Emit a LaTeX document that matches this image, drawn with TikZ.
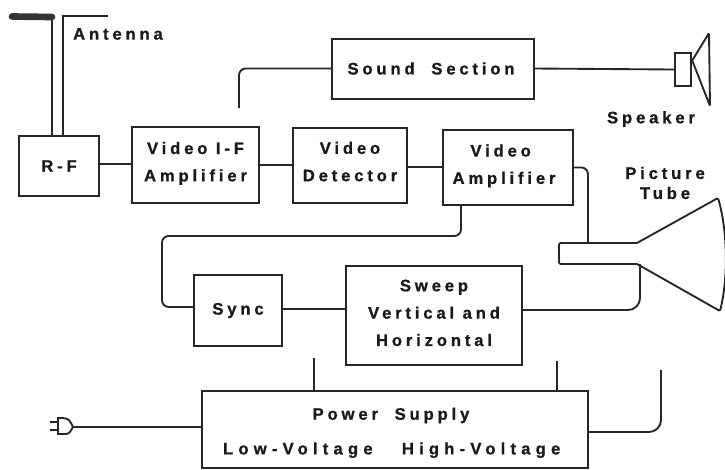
\documentclass[tikz,border=0pt]{standalone}
\usepackage{fontspec}
\setmainfont[LetterSpace=23,BoldFeatures={FakeBold=0.9}]{Liberation Sans}
\newcommand{\liftup}[1]{\rule[-#1]{0pt}{#1}}
\tikzset{
  blockbox/.style={draw=black!85, line width=1.5pt, inner sep=0pt, outer sep=0pt, align=center,
    font=\fontsize{12.5}{20.5}\selectfont\bfseries, text=black!90},
  tag/.style={inner sep=0pt, align=center, font=\fontsize{12.5}{15}\selectfont\bfseries, text=black!90},
  wire/.style={draw=black!85, line width=1.4pt, rounded corners=5pt},
  bigbend/.style={wire, rounded corners=9pt}
}
\begin{document}
\begin{tikzpicture}[x=0.75pt,y=-0.75pt]
    \useasboundingbox (0,0) rectangle (725,469);
    % Blok utama
    \node[blockbox, minimum width=60pt, minimum height=45pt] (rf) at (59,166) {R-F};
    \node[blockbox, minimum width=95pt, minimum height=57pt] (vif) at (195.5,165) {Video I-F\\Amplifier\liftup{5pt}};
    \node[blockbox, minimum width=85.5pt, minimum height=56pt] (det) at (350,165.5) {Video\\Detector\liftup{6pt}};
    \node[blockbox, minimum width=97.5pt, minimum height=56pt] (vamp) at (508,167.5) {Video\hspace*{11pt}\\Amplifier\hspace*{6pt}\liftup{5pt}};
    \node[blockbox, minimum width=151.5pt, minimum height=45pt] (sound) at (433,68.5) {Sound\quad Section\hspace*{3pt}};
    \node[blockbox, minimum width=66pt, minimum height=53pt] (sync) at (238,310.5) {Sync};
    \node[blockbox, minimum width=132pt, minimum height=74pt] (sweep) at (434,315.5) {Sweep\\Vertical and\\Horizontal\liftup{4pt}};
    \node[blockbox, minimum width=289.5pt, minimum height=58pt] (power) at (395,429.5) {\rule{0pt}{14pt}Power\quad Supply\hspace*{6pt}\\[5.5pt]\addfontfeature{LetterSpace=31}Low-Voltage\hspace{22pt}High-Voltage\hspace*{5pt}};

    % Keterangan
    \node[tag] (antennalabel) at (118,34) {Antenna};
    \node[tag] (speakerlabel) at (651,119) {Speaker};
    \node[tag] (tubelabel) at (665,183) {Picture\\Tube};

    % Antena
    \coordinate (antl) at (52,17);
    \coordinate (antr) at (63,16);
    \draw[wire, rounded corners=0pt] (rf.north -| antl) -- (antl);
    \draw[line width=5pt, draw=black!80, line cap=round] (antl) -- (12,16.5);
    \draw[wire, rounded corners=0pt] (rf.north -| antr) -- (antr) -- (108,16);

    % Pengeras suara
    \node[draw=black!85, line width=1.4pt, minimum width=11.5pt, minimum height=24.5pt, inner sep=0pt] (speaker) at (683,69.5) {};
    \draw[wire, rounded corners=1pt] (speaker.east) ++(0,-8) -- (709,33) -- (710,106) -- ([yshift=8pt]speaker.east);

    % Tabung gambar
    \coordinate (necktop) at (637,243);
    \coordinate (neckbot) at (637,264);
    \draw[wire, rounded corners=1pt] (necktop) -- (559,243) -- (559,264) -- (neckbot);
    \draw[wire, rounded corners=1pt] (necktop) -- (718,198) .. controls (728,232) and (728,280) .. (720,311) -- (neckbot);

    % Sambungan
    \draw[wire] (rf.east |- 0,164) -- (vif.west |- 0,164);
    \draw[wire] (vif.east |- 0,165) -- (det.west |- 0,165);
    \draw[wire] (det.east |- 0,167) -- (vamp.west |- 0,167);
    \coordinate (soundend) at (239,108);
    \draw[wire] (sound.west) -| (soundend);
    \draw[wire] (sound.east) -- (speaker.west);
    \draw[wire] (vamp.east) -| (588,243);
    \coordinate (syncbus) at (461,236);
    \draw[wire] (vamp.south -| syncbus) -- (syncbus) -- (162,236) -- (162,307) -- (sync.west |- 0,307);
    \draw[wire] (sync.east |- 0,309) -- (sweep.west |- 0,309);
    \draw[bigbend] (sweep.east |- 0,310) -- (640,310) -- (neckbot -| 640,0);
    \coordinate (lowend) at (314,358);
    \coordinate (highend) at (557,361);
    \coordinate (tubeend) at (661,370);
    \draw[wire] (power.north -| lowend) -- (lowend);
    \draw[wire] (power.north -| highend) -- (highend);
    \draw[bigbend] (power.east |- 0,432) -| (tubeend);

    % Steker
    \coordinate (plug) at (73,427);
    \draw[wire, line width=1.8pt] (plug) -- (power.west |- plug);
    \draw[wire, rounded corners=0pt, fill=white] (58,418) -- (63,418) .. controls (69,419) .. (plug) .. controls (69,434) .. (63,434) -- (58,434) -- cycle;
    \draw[wire, rounded corners=0pt] (58,422) -- (50,422) (58,430) -- (50,430);
  \end{tikzpicture}
\end{document}
